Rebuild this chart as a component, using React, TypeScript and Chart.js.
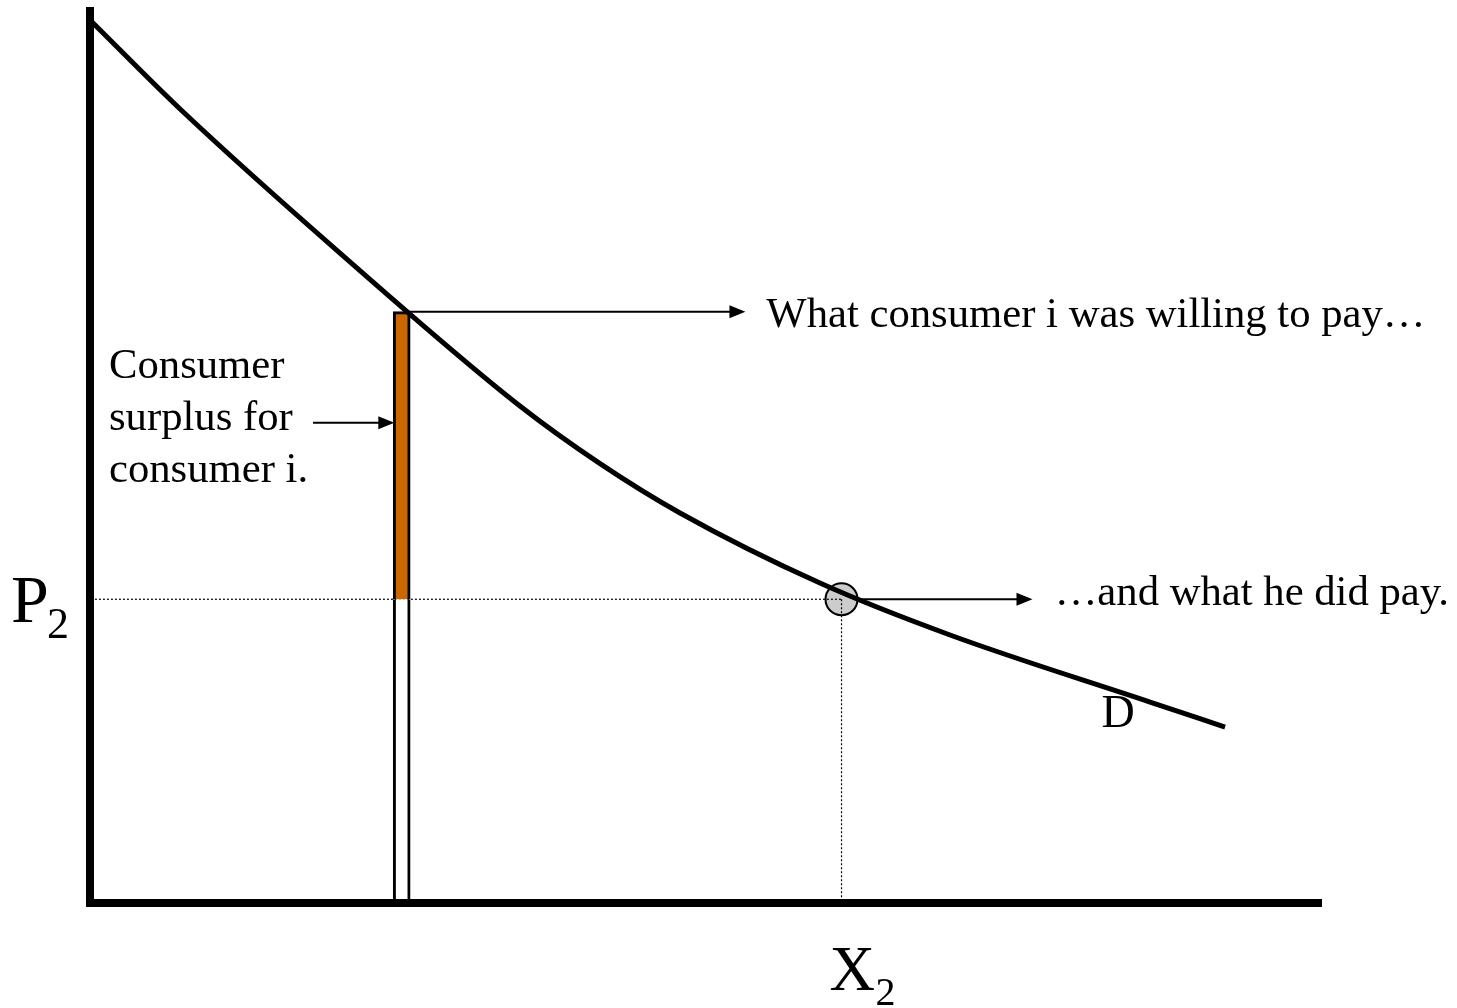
import React, { useEffect, useRef } from "react";
import { Chart, registerables } from "chart.js";

Chart.register(...registerables);

// Demand curve (quantity, price) in arbitrary units
const demandQ = [0.16, 7.31, 20.29, 34.9, 41.4, 47.89, 59.25, 69.81, 86.04, 92.13];
const demandP = [98.33, 88.62, 72.54, 55.47, 49.04, 43.53, 35.71, 29.91, 22.43, 19.64];

// Consumer i and market values
const consumerQ = 25.3;
const willingPrice = 66.0;
const marketPrice = 33.9; // P2
const marketQ = 61.0; // X2

// Axis extents
const qMax = 100;
const pMax = 100;

// Arrows: [fromQ, toQ, atP]
const arrowFromQ = [25.9, 18.1, 62.3];
const arrowToQ = [53.2, 24.7, 76.5];
const arrowAtP = [66.0, 53.6, 33.9];

// Text labels
const labelTexts = [
  "What consumer i was willing to pay…",
  "Consumer",
  "surplus for",
  "consumer i.",
  "…and what he did pay.",
  "D",
];
const labelQ = [54.9, 1.54, 1.54, 1.54, 78.3, 82.1];
const labelP = [64.3, 58.6, 52.8, 47.0, 33.3, 19.6];

const SERIF = "'Liberation Serif', 'Times New Roman', serif";

const annotationPlugin = {
  id: "econAnnotations",
  afterDatasetsDraw(chart: any) {
    const { ctx, chartArea, scales } = chart;
    const xs = scales.x;
    const ys = scales.y;
    ctx.save();
    // axes
    ctx.fillStyle = "#000";
    ctx.fillRect(chartArea.left - 4, chartArea.top, 8, chartArea.bottom - chartArea.top + 4);
    ctx.fillRect(chartArea.left - 4, chartArea.bottom - 4, chartArea.right - chartArea.left + 4, 8);

    // arrows
    ctx.strokeStyle = "#000";
    ctx.lineWidth = 2;
    for (let i = 0; i < arrowFromQ.length; i++) {
      const x0 = xs.getPixelForValue(arrowFromQ[i]);
      const x1 = xs.getPixelForValue(arrowToQ[i]);
      const y = ys.getPixelForValue(arrowAtP[i]);
      ctx.beginPath();
      ctx.moveTo(x0, y);
      ctx.lineTo(x1 - 12, y);
      ctx.stroke();
      ctx.beginPath();
      ctx.moveTo(x1, y);
      ctx.lineTo(x1 - 16, y - 6.5);
      ctx.lineTo(x1 - 16, y + 6.5);
      ctx.closePath();
      ctx.fill();
    }

    // text labels
    ctx.fillStyle = "#000";
    ctx.textBaseline = "alphabetic";
    ctx.textAlign = "left";
    for (let i = 0; i < labelTexts.length; i++) {
      ctx.font = (labelTexts[i] === "D" ? "46px " : "42.7px ") + SERIF;
      ctx.fillText(labelTexts[i], xs.getPixelForValue(labelQ[i]), ys.getPixelForValue(labelP[i]));
    }

    // P2 label
    const py = ys.getPixelForValue(marketPrice);
    ctx.font = "68px " + SERIF;
    ctx.fillText("P", 11, py + 23);
    ctx.font = "44px " + SERIF;
    ctx.fillText("2", 47, py + 39);

    // X2 label
    const qx = xs.getPixelForValue(marketQ);
    ctx.font = "63px " + SERIF;
    ctx.fillText("X", qx - 12, chartArea.bottom + 87);
    ctx.font = "40px " + SERIF;
    ctx.fillText("2", qx + 34, chartArea.bottom + 102);
    ctx.restore();
  },
};

export default function App() {
  const ref = useRef<HTMLCanvasElement>(null);
  useEffect(() => {
    if (!ref.current) return;
    const chart = new Chart(ref.current, {
      type: "line",
      data: {
        datasets: [
          {
            type: "line",
            label: "equilibrium",
            data: [{ x: marketQ, y: marketPrice }],
            showLine: false,
            pointRadius: 16,
            pointBackgroundColor: "#cccccc",
            pointBorderColor: "#000",
            pointBorderWidth: 2,
            order: 10,
          } as any,
          {
            type: "line",
            label: "P2 dotted",
            data: [
              { x: 0.4, y: marketPrice },
              { x: marketQ, y: marketPrice },
            ],
            borderColor: "#000",
            borderWidth: 1.2,
            borderDash: [2, 2],
            pointRadius: 0,
            order: 5,
          } as any,
          {
            type: "line",
            label: "X2 dotted",
            data: [
              { x: marketQ, y: marketPrice },
              { x: marketQ, y: 0 },
            ],
            borderColor: "#000",
            borderWidth: 1.2,
            borderDash: [2, 2],
            pointRadius: 0,
            order: 5,
          } as any,
          {
            type: "bar",
            label: "paid",
            data: [{ x: consumerQ, y: [0, marketPrice] }],
            backgroundColor: "#ffffff",
            borderColor: "#000",
            borderWidth: 3,
            borderSkipped: "top",
            barThickness: 17,
            grouped: false,
            order: 4,
          } as any,
          {
            type: "bar",
            label: "surplus",
            data: [{ x: consumerQ, y: [marketPrice, willingPrice] }],
            backgroundColor: "#CC6600",
            borderColor: "#000",
            borderWidth: 3,
            borderSkipped: "bottom",
            barThickness: 17,
            grouped: false,
            order: 3,
          } as any,
          {
            type: "line",
            label: "D",
            data: demandQ.map((q, i) => ({ x: q, y: demandP[i] })),
            borderColor: "#000",
            borderWidth: 5,
            pointRadius: 0,
            cubicInterpolationMode: "monotone",
            order: 2,
          } as any,
        ],
      },
      options: {
        responsive: false,
        animation: false,
        events: [],
        layout: { autoPadding: false, padding: { left: 90, top: 7, right: 135, bottom: 105 } },
        scales: {
          x: { type: "linear", min: 0, max: qMax, display: false, offset: false },
          y: { type: "linear", min: 0, max: pMax, display: false },
        },
        plugins: {
          legend: { display: false },
          tooltip: { enabled: false },
        },
      },
      plugins: [annotationPlugin],
    });
    return () => chart.destroy();
  }, []);
  return (
    <div style={{ position: "absolute", left: 0, top: 0, width: 1457, height: 1008, background: "#fff" }}>
      <canvas ref={ref} width={1457} height={1008} style={{ display: "block" }} />
    </div>
  );
}
